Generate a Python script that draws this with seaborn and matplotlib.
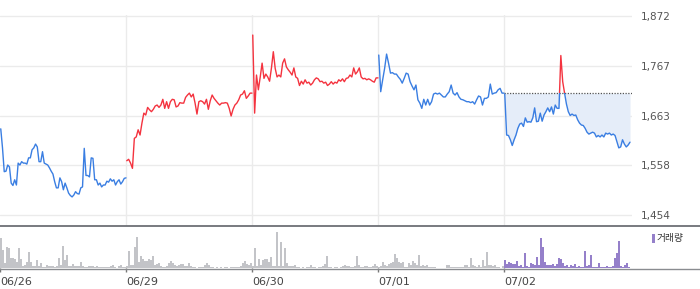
import numpy as np
import matplotlib
matplotlib.use("Agg")
import matplotlib.pyplot as plt
import seaborn as sns
from matplotlib.patches import Rectangle
from matplotlib.lines import Line2D

# ---------------- data ----------------
days = ["06/26", "06/29", "06/30", "07/01", "07/02"]
y_ticks = [1454, 1558, 1663, 1767, 1872]

price_0626 = [1635, 1595, 1545, 1546, 1559, 1555, 1521, 1516, 1528, 1517, 1563, 1559, 1566, 1563, 1563,
              1561, 1574, 1574, 1591, 1595, 1603, 1597, 1566, 1566, 1587, 1563, 1561, 1559, 1553, 1546,
              1540, 1524, 1511, 1511, 1532, 1524, 1507, 1521, 1511, 1500, 1495, 1492, 1496, 1503, 1499,
              1498, 1511, 1513, 1594, 1537, 1537, 1534, 1574, 1573, 1528, 1528, 1517, 1521, 1513, 1517,
              1517, 1525, 1523, 1530, 1525, 1528, 1517, 1524, 1528, 1519, 1524, 1531, 1532]
price_0629 = [1568, 1571, 1563, 1552, 1615, 1618, 1633, 1622, 1647, 1668, 1664, 1680, 1675, 1671, 1676,
              1683, 1685, 1680, 1685, 1697, 1678, 1692, 1678, 1692, 1697, 1696, 1681, 1683, 1690, 1689,
              1689, 1701, 1706, 1710, 1702, 1708, 1689, 1666, 1692, 1694, 1692, 1687, 1697, 1676, 1694,
              1706, 1699, 1694, 1689, 1685, 1689, 1689, 1690, 1689, 1678, 1662, 1676, 1685, 1689, 1696,
              1706, 1708, 1715, 1699, 1704, 1710, 1710]
price_0630 = [1832, 1668, 1748, 1717, 1744, 1773, 1741, 1750, 1744, 1735, 1763, 1797, 1762, 1744, 1748,
              1744, 1773, 1782, 1765, 1759, 1754, 1748, 1763, 1744, 1741, 1726, 1735, 1729, 1738, 1731,
              1733, 1727, 1731, 1738, 1742, 1740, 1734, 1735, 1731, 1733, 1726, 1729, 1734, 1729, 1733,
              1731, 1738, 1735, 1740, 1734, 1741, 1742, 1748, 1744, 1763, 1750, 1755, 1763, 1744, 1740,
              1741, 1738, 1740, 1738, 1735, 1733, 1742, 1742]
price_0701 = [1790, 1713, 1738, 1762, 1792, 1773, 1752, 1753, 1750, 1750, 1744, 1739, 1731, 1741, 1752,
              1750, 1734, 1725, 1717, 1727, 1696, 1689, 1678, 1697, 1685, 1697, 1685, 1692, 1708, 1710,
              1708, 1710, 1706, 1702, 1702, 1708, 1713, 1727, 1710, 1706, 1711, 1702, 1697, 1696, 1694,
              1692, 1692, 1690, 1692, 1687, 1696, 1704, 1702, 1685, 1699, 1699, 1702, 1729, 1708, 1710,
              1711, 1717, 1720, 1710, 1710]
price_0702 = [1708, 1622, 1621, 1612, 1600, 1612, 1622, 1636, 1645, 1647, 1640, 1658, 1649, 1650, 1649,
              1658, 1679, 1650, 1651, 1668, 1651, 1664, 1671, 1679, 1671, 1681, 1666, 1685, 1678, 1678,
              1789, 1734, 1710, 1687, 1671, 1663, 1666, 1663, 1664, 1654, 1647, 1643, 1642, 1636, 1628,
              1624, 1626, 1628, 1626, 1618, 1621, 1618, 1622, 1618, 1626, 1624, 1626, 1622, 1624, 1621,
              1608, 1595, 1597, 1612, 1603, 1597, 1601, 1607]

vol_0626 = [30, 18, 5, 21, 20, 10, 10, 9, 6, 20, 9, 2, 3, 6, 16, 6, 2, 2, 8, 2, 5, 1, 1, 3, 2, 2, 2, 1, 2, 10,
            3, 22, 8, 13, 2, 2, 4, 2, 2, 2, 6, 2, 1, 1, 2, 2, 2, 1, 2, 1, 1, 1, 1, 1, 1, 2, 3, 1, 0, 2,
            3, 1, 1]
vol_0629 = [2, 17, 3, 3, 21, 31, 6, 12, 9, 7, 7, 9, 8, 12, 3, 4, 5, 2, 1, 1, 2, 5, 7, 5, 3, 2, 3, 4, 4, 2,
            2, 5, 2, 1, 1, 0, 1, 1, 1, 3, 5, 3, 1, 1, 0, 1, 0, 1, 0, 1, 1, 0, 1, 1, 1, 1, 1, 2, 5, 7,
            4, 3, 5]
vol_0630 = [2, 20, 2, 9, 3, 8, 9, 9, 6, 11, 2, 2, 36, 2, 26, 2, 20, 5, 2, 2, 2, 3, 1, 1, 0, 1, 0, 1, 1, 3,
            1, 1, 0, 1, 1, 2, 4, 12, 1, 1, 0, 1, 1, 0, 1, 2, 3, 2, 2, 1, 1, 2, 12, 3, 1, 1, 2, 2, 1, 1,
            2, 4, 2]
vol_0701 = [1, 2, 6, 3, 2, 4, 5, 6, 14, 10, 6, 5, 6, 1, 1, 5, 3, 7, 5, 3, 13, 2, 3, 2, 3, 1, 1, 1, 1, 0,
            0, 0, 0, 0, 3, 3, 1, 1, 1, 1, 1, 1, 1, 3, 3, 1, 10, 3, 2, 1, 3, 1, 8, 2, 16, 3, 3, 2, 3, 1,
            1, 0, 2]
vol_0702 = [8, 4, 6, 5, 4, 4, 7, 2, 3, 1, 15, 2, 1, 5, 4, 3, 11, 3, 30, 21, 6, 3, 3, 3, 4, 2, 4, 10, 9, 5,
            2, 3, 1, 3, 2, 4, 1, 2, 1, 1, 17, 2, 3, 13, 1, 1, 1, 5, 1, 1, 1, 2, 1, 1, 2, 10, 15, 27, 2, 1,
            3, 5, 1]

prices = [price_0626, price_0629, price_0630, price_0701, price_0702]
volumes = [vol_0626, vol_0629, vol_0630, vol_0701, vol_0702]
legend_label = "거래량"

# ---------------- style ----------------
sns.set_theme(style="white")
plt.rcParams["font.family"] = ["DejaVu Sans", "Noto Sans CJK KR"]

W, H = 700, 289
fig = plt.figure(figsize=(W / 100, H / 100), dpi=100)

BLUE = "#3a7ee2"
RED = "#f4333f"
FILL = "#e5edf9"
GRID = "#ebebeb"
GRAY_BAR = "#c3c4c8"
PURPLE = "#9580ca"

plot_w = 632
xmax = plot_w / 126.0

def fy(px):
    return 1 - px / H

# price panel
top_px, bot_px = 15, 225.7
ax = fig.add_axes([0, fy(bot_px), plot_w / W, (bot_px - top_px) / H])
per_px = (1872 - 1454) / (215 - 16)
ax.set_xlim(0, xmax)
ax.set_ylim(1872 - (bot_px - 16) * per_px, 1872 + (16 - top_px) * per_px)
for s in ax.spines.values():
    s.set_visible(False)
ax.set_xticks([])
ax.yaxis.tick_right()
ax.set_yticks(y_ticks)
ax.set_yticklabels([f"{v:,}" for v in y_ticks], fontsize=7.5, color="#555555")
ax.tick_params(axis="y", length=0, pad=6.5)
for v in y_ticks:
    ax.axhline(v, color=GRID, lw=1, zorder=0)
for d in range(1, len(days)):
    ax.axvline(d, color=GRID, lw=1, zorder=0)

prev_close = prices[0][0]
ref = prices[-2][-1]
LW = 1.0
for d, p in enumerate(prices):
    x = np.linspace(d + 0.006, d + 1.0, len(p))
    p = np.asarray(p, dtype=float)
    if d < len(prices) - 1:
        col = RED if p[-1] > prev_close else BLUE
        sns.lineplot(x=x, y=p, ax=ax, color=col, lw=LW, zorder=3)
        prev_close = p[-1]
    else:
        ax.fill_between(x, np.minimum(p, ref), ref, color=FILL, lw=0, zorder=1)
        ax.hlines(ref, d, xmax, colors="#555555", lw=0.9, linestyles=(0, (1, 1.2)), zorder=2)
        ylo, yhi = ax.get_ylim()
        sns.lineplot(x=x, y=p, ax=ax, color=BLUE, lw=LW, zorder=3)
        ax.lines[-1].set_clip_path(Rectangle((d, ylo), 1.2, ref - ylo, transform=ax.transData))
        sns.lineplot(x=x, y=p, ax=ax, color=RED, lw=LW, zorder=3)
        ax.lines[-1].set_clip_path(Rectangle((d, ref), 1.2, yhi - ref, transform=ax.transData))

# volume panel
vbot, vtop = 268.3, 226.5
axv = fig.add_axes([0, fy(vbot), plot_w / W, (vbot - vtop) / H])
axv.set_xlim(0, xmax)
axv.set_ylim(0, vbot - vtop)
for s in axv.spines.values():
    s.set_visible(False)
for d, vol in enumerate(volumes):
    xs = d + (2 * np.arange(len(vol)) + 1) / 126.0
    col = PURPLE if d == len(volumes) - 1 else GRAY_BAR
    axv.bar(xs, vol, width=1.15 / 126.0, color=col, lw=0, align="center")
axv.set_yticks([])
axv.set_xticks(range(len(days)))
axv.set_xticklabels(days, fontsize=8, color="#444444", ha="left")
axv.tick_params(axis="x", length=3, width=1, color="#777777", pad=3.3, bottom=True)

# full-width separator / baseline
fig.add_artist(Line2D([0, 1], [fy(225.8), fy(225.8)], transform=fig.transFigure, color="#6d7075", lw=1.3))
fig.add_artist(Line2D([0, 1], [fy(268.6), fy(268.6)], transform=fig.transFigure, color="#8a8c90", lw=1.0))

# legend
fig.add_artist(Rectangle((652 / W, fy(243)), 3 / W, 9 / H, transform=fig.transFigure,
                         facecolor=PURPLE, edgecolor="none"))
fig.text(657 / W, fy(238.5), legend_label, fontsize=7, color="#333333", va="center", ha="left",
         family=["Noto Sans CJK KR", "DejaVu Sans"])

fig.savefig("out.png", dpi=100)
